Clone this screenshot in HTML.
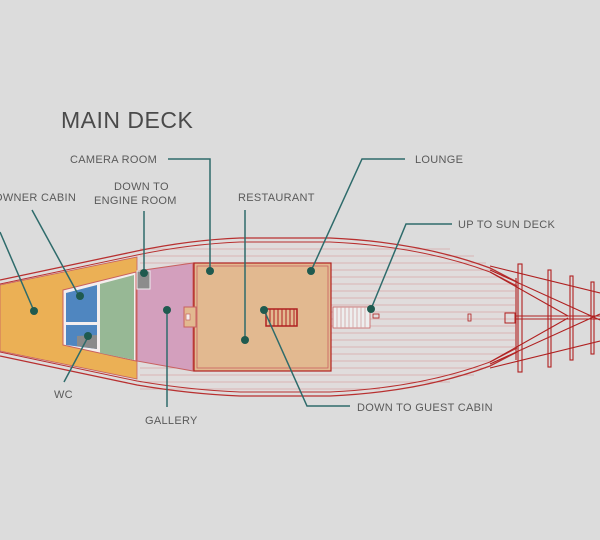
<!DOCTYPE html>
<html><head><style>
html,body{margin:0;padding:0;background:#dcdcdc;}
svg{display:block}
text{font-family:"Liberation Sans",sans-serif;fill:#5a5a5a;font-size:11px;letter-spacing:0.3px}
</style></head><body>
<svg width="600" height="540" viewBox="0 0 600 540" xmlns="http://www.w3.org/2000/svg">
<rect width="600" height="540" fill="#dcdcdc"/>
<text x="61" y="128" style="font-size:23px;fill:#4a4a4a;letter-spacing:0.5px">MAIN DECK</text>

<!-- hull deck -->
<path d="M0,282 L137,253 Q190,242 240,240 L330,240 Q420,244 490,270 L517,284 L517,350 L490,364 Q420,390 330,394 L240,394 Q190,392 137,382 L0,354 Z" fill="#e0dcdc"/>
<g stroke="#d9a8a8" stroke-width="0.8">
<line x1="140" y1="249" x2="450" y2="249"/>
<line x1="140" y1="256" x2="474" y2="256"/>
<line x1="140" y1="263" x2="486" y2="263"/>
<line x1="140" y1="270" x2="496" y2="270"/>
<line x1="140" y1="277" x2="506" y2="277"/>
<line x1="140" y1="284" x2="515" y2="284"/>
<line x1="140" y1="291" x2="515" y2="291"/>
<line x1="140" y1="298" x2="515" y2="298"/>
<line x1="140" y1="305" x2="515" y2="305"/>
<line x1="140" y1="312" x2="515" y2="312"/>
<line x1="140" y1="319" x2="515" y2="319"/>
<line x1="140" y1="326" x2="515" y2="326"/>
<line x1="140" y1="333" x2="515" y2="333"/>
<line x1="140" y1="340" x2="515" y2="340"/>
<line x1="140" y1="347" x2="515" y2="347"/>
<line x1="140" y1="354" x2="506" y2="354"/>
<line x1="140" y1="361" x2="496" y2="361"/>
<line x1="140" y1="368" x2="486" y2="368"/>
<line x1="140" y1="375" x2="474" y2="375"/>
<line x1="140" y1="382" x2="450" y2="382"/>
<line x1="140" y1="389" x2="380" y2="389"/>
</g>
<g fill="none" stroke="#b83030">
<path d="M0,280 L137,251 Q190,240 240,238 L330,238 Q420,242 490,268 L517,282" stroke-width="1.3"/>
<path d="M0,284 L137,255 Q190,244 240,242 L330,242 Q420,246 490,272 L517,286" stroke-width="1"/>
<path d="M0,356 L137,385 Q190,394 240,396 L330,396 Q420,392 490,366 L517,352" stroke-width="1.3"/>
<path d="M0,352 L137,381 Q190,390 240,392 L330,392 Q420,388 490,362 L517,348" stroke-width="1"/>
</g>

<!-- orange aft -->
<path d="M0,285 L137,257 L137,379 L0,351 Z" fill="#ebb055" stroke="#c86060" stroke-width="0.8"/>
<path d="M63,290 L136,272 L136,361 L63,345 Z" fill="#f4eeee" stroke="#c86060" stroke-width="1"/>
<path d="M66,293 L97,285 L97,322 L66,322 Z" fill="#4f86c0"/>
<path d="M66,325 L97,325 L97,349 L66,345 Z" fill="#4f86c0"/>
<path d="M77,336 L97,335 L97,349 L77,346 Z" fill="#8a8a8a"/>
<path d="M100,284 L134,275 L134,360 L100,353 Z" fill="#97b895"/>
<!-- pink gallery -->
<path d="M137,271 L193,263 L193,371 L137,361 Z" fill="#d39fbd" stroke="#c86060" stroke-width="1"/>
<rect x="137" y="271" width="13" height="18" fill="#8c8c8c" stroke="#eee"/>
<!-- restaurant -->
<rect x="194" y="263" width="137" height="108" fill="#e2b990" stroke="#b02020" stroke-width="1.2"/>
<rect x="197" y="266" width="131" height="102" fill="none" stroke="#c86060" stroke-width="0.8"/>
<rect x="184" y="307" width="12" height="20" fill="#e2b990" stroke="#c86060"/>
<rect x="186" y="314" width="4" height="6" fill="#f4eeee" stroke="#c86060" stroke-width="0.7"/>
<rect x="266" y="309" width="31" height="17" fill="#e2b990" stroke="#b02020" stroke-width="1.5"/>
<g stroke="#b02020" stroke-width="1">
<line x1="270" y1="309" x2="270" y2="326"/><line x1="274" y1="309" x2="274" y2="326"/><line x1="278" y1="309" x2="278" y2="326"/><line x1="282" y1="309" x2="282" y2="326"/><line x1="286" y1="309" x2="286" y2="326"/><line x1="290" y1="309" x2="290" y2="326"/><line x1="294" y1="309" x2="294" y2="326"/>
</g>
<!-- sun deck stairs -->
<rect x="333" y="307" width="37" height="21" fill="#eee" stroke="#c86060" stroke-width="0.8"/>
<g stroke="#d0a0a0" stroke-width="0.8">
<line x1="337" y1="307" x2="337" y2="328"/><line x1="341" y1="307" x2="341" y2="328"/><line x1="345" y1="307" x2="345" y2="328"/><line x1="349" y1="307" x2="349" y2="328"/><line x1="353" y1="307" x2="353" y2="328"/><line x1="357" y1="307" x2="357" y2="328"/><line x1="361" y1="307" x2="361" y2="328"/><line x1="365" y1="307" x2="365" y2="328"/>
</g>
<rect x="373" y="314" width="6" height="4" fill="none" stroke="#b02020" stroke-width="0.8"/>
<rect x="468" y="314" width="3" height="7" fill="none" stroke="#b02020" stroke-width="0.8"/>
<rect x="505" y="313" width="10" height="10" fill="none" stroke="#b02020" stroke-width="1"/>

<!-- bowsprit rigging -->
<g stroke="#b02020" stroke-width="1.1" fill="none">
<line x1="490" y1="270" x2="600" y2="320"/>
<line x1="490" y1="364" x2="600" y2="314"/>
<line x1="490" y1="266" x2="600" y2="293"/>
<line x1="490" y1="368" x2="600" y2="341"/>
<line x1="490" y1="272" x2="568" y2="316"/>
<line x1="490" y1="362" x2="568" y2="318"/>
<line x1="515" y1="316" x2="600" y2="316"/>
<line x1="515" y1="319" x2="600" y2="319"/>
<rect x="518" y="264" width="4" height="108"/>
<rect x="548" y="270" width="3" height="97"/>
<rect x="570" y="276" width="3" height="84"/>
<rect x="591" y="282" width="3" height="72"/>
<line x1="516" y1="278" x2="516" y2="360"/>
</g>

<!-- leader lines -->
<g stroke="#2e6b6b" stroke-width="1.5" fill="none">
<polyline points="0,232 34,311"/>
<polyline points="32,210 79,296"/>
<polyline points="144,211 144,273"/>
<polyline points="168,159 210,159 210,271"/>
<polyline points="245,210 245,340"/>
<polyline points="405,159 362,159 311,271"/>
<polyline points="452,224 406,224 371,309"/>
<polyline points="350,406 307,406 264,310"/>
<polyline points="167,310 167,407"/>
<polyline points="64,382 88,337"/>
</g>
<g fill="#1f5a4f">
<circle cx="34" cy="311" r="4"/><circle cx="80" cy="296" r="4"/><circle cx="144" cy="273" r="4"/>
<circle cx="210" cy="271" r="4"/><circle cx="245" cy="340" r="4"/><circle cx="311" cy="271" r="4"/>
<circle cx="371" cy="309" r="4"/><circle cx="264" cy="310" r="4"/><circle cx="167" cy="310" r="4"/>
<circle cx="88" cy="336" r="4"/>
</g>

<text x="70" y="163">CAMERA ROOM</text>
<text x="-6" y="201">OWNER CABIN</text>
<text x="114" y="190">DOWN TO</text>
<text x="94" y="204">ENGINE ROOM</text>
<text x="238" y="201">RESTAURANT</text>
<text x="415" y="163">LOUNGE</text>
<text x="458" y="228">UP TO SUN DECK</text>
<text x="357" y="411">DOWN TO GUEST CABIN</text>
<text x="54" y="398">WC</text>
<text x="145" y="424">GALLERY</text>
</svg>
</body></html>
